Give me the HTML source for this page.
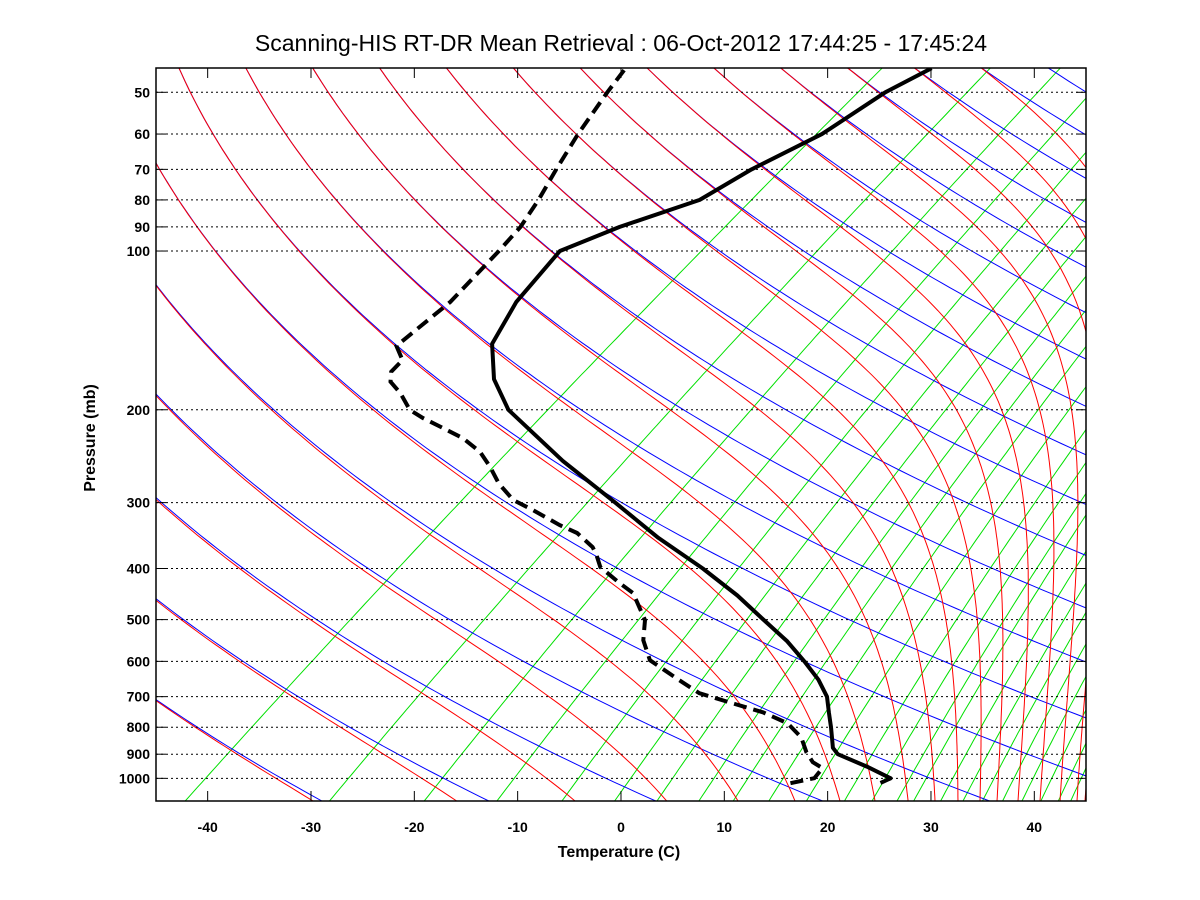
<!DOCTYPE html>
<html><head><meta charset="utf-8"><style>
html,body{margin:0;padding:0;background:#fff;}
svg{display:block;font-family:"Liberation Sans",sans-serif;}
</style></head><body>
<svg id="chart" width="1200" height="900" viewBox="0 0 1200 900" xmlns="http://www.w3.org/2000/svg">
<defs><clipPath id="plotclip"><rect x="156" y="68" width="930" height="733"/></clipPath></defs>
<rect x="0" y="0" width="1200" height="900" fill="#fff"/>
<text x="621" y="51" text-anchor="middle" font-size="23">Scanning-HIS RT-DR Mean Retrieval : 06-Oct-2012 17:44:25 - 17:45:24</text>
<g id="lines" clip-path="url(#plotclip)"></g>
<g id="axes"></g>
<text x="619" y="857" text-anchor="middle" font-size="16" font-weight="bold">Temperature (C)</text>
<text x="0" y="0" transform="translate(95,438) rotate(-90)" text-anchor="middle" font-size="16" font-weight="bold">Pressure (mb)</text>
</svg>
<script>
const pressureTicks=[50,60,70,80,90,100,200,300,400,500,600,700,800,900,1000];
const temperatureTicks=[-40,-30,-20,-10,0,10,20,30,40];
const solidP=[45,50,60,70,80,90,100,125,150,175,200,250,300,350,400,450,500,550,600,650,700,750,800,850,875,900,950,1000,1020];
const solidT=[-63.6,-65.0,-65.8,-68.1,-69.2,-73.5,-76.2,-73.9,-70.9,-66.2,-60.9,-49.1,-38.7,-30.0,-21.8,-15.0,-9.4,-4.3,-0.1,3.6,6.6,8.8,10.9,12.8,13.7,15.0,19.4,23.2,22.8];
const dewP=[45.4,50,60,70,80,90,100,125,151.3,161,169.4,176.9,185.9,200.2,207.4,216.6,226.3,240.2,256.5,276,296.6,309.9,330.9,342.6,364.3,377.3,397.5,426.2,445.3,501,547,597,651.5,689.5,720.5,749.5,786.5,836,892,932,956.5,999.5,1021.5];
const dewT=[-93.1,-91.9,-89.4,-87.0,-84.8,-83.1,-82.1,-80.3,-79.9,-77.5,-77.1,-75.9,-73.5,-70.4,-68.1,-64.9,-61.7,-58.3,-55.4,-52.4,-48.9,-45.7,-41.2,-38.5,-35.2,-33.8,-31.9,-28.0,-25.4,-20.8,-18.4,-15.2,-9.8,-6.2,-1.7,2.4,6.2,9.3,11.7,13.6,15.3,15.8,14.1];
const mixRatios=[0.085,0.34,0.77,1.38,2.26,3.31,4.45,5.91,7.41,9.32,11.8,14.9,17.6,20.4,22.5,26.3,29.9,33.4,37.4,41.7,46.3,51.0,54.6];
const thetaValues=[221.7,237.4,253.1,268.8,284.5,300.2,315.9,331.6,347.3,363.0,378.7,394.4,410.1,425.8,441.5,457.2,472.9,488.6,504.3,520.0,535.7,551.4];
const moistBaseT=[-45.0,-29.8,-15.9,-4.45,4.42,11.32,16.84,21.19,24.58,27.78,30.39,32.61,34.74,36.39,38.42,40.55,42.49,44.13,44.9,46.5];

const NS="http://www.w3.org/2000/svg";
const PTOP=44.9, PBOT=1104;
function yP(p){return 92.3+527.3*Math.log10(p/50);}
function xT(T,p){return 621+10.333*T+1.3206*(801-yP(p));}
function es(Tc){return 6.112*Math.exp(17.67*Tc/(Tc+243.5));}
function mk(tag,parent){const e=document.createElementNS(NS,tag);parent.appendChild(e);return e;}
function pts(arr){return arr.map(a=>a[0].toFixed(1)+","+a[1].toFixed(1)).join(" ");}
const lines=document.getElementById('lines');
const axes=document.getElementById('axes');
const NSTEP=160;
function pAt(i){return PTOP*Math.pow(PBOT/PTOP,i/NSTEP);}
function integrate(T0,fromTop){
  const Rd=287,cp=1004,Lv=2.5e6,eps=0.622,sub=4;
  const out=new Array(NSTEP+1);let T=T0;
  const dl=(fromTop?1:-1)*Math.log(PBOT/PTOP)/NSTEP/sub;
  for(let k=0;k<=NSTEP;k++){
    const i=fromTop?k:NSTEP-k;const p=pAt(i);out[i]=T;let pp=p;
    for(let s=0;s<sub;s++){
      const e=es(T-273.15);const rs=eps*e/Math.max(pp-e,1);
      const dT=(Rd*T+Lv*rs)/(cp+Lv*Lv*rs*eps/(Rd*T*T));
      T+=dT*dl;pp*=Math.exp(dl);
    }
  }
  return out;
}

mixRatios.forEach(w=>{
  const a=[];
  for(let i=0;i<=NSTEP;i++){const p=pAt(i);const e=w*p/(622+w);const l=Math.log(e/6.112);const Td=243.5*l/(17.67-l);a.push([xT(Td,p),yP(p)]);}
  const pl=mk('polyline',lines);
  
  
  pl.setAttribute('points',pts(a));pl.setAttribute('fill','none');pl.setAttribute('stroke','#00e000');pl.setAttribute('stroke-width','1');
});
thetaValues.forEach(th=>{
  const a=[];
  for(let i=0;i<=NSTEP;i++){const p=pAt(i);const T=th*Math.pow(p/1000,0.2857)-273.15;a.push([xT(T,p),yP(p)]);}
  const pl=mk('polyline',lines);
  
  
  pl.setAttribute('points',pts(a));pl.setAttribute('fill','none');pl.setAttribute('stroke','#0000ff');pl.setAttribute('stroke-width','1');
});
moistBaseT.forEach((tb,j)=>{
  const th=thetaValues[j];
  const up=integrate(tb+273.15,false);
  const down=integrate(th*Math.pow(PTOP/1000,0.2857),true);
  const a=[];
  for(let i=0;i<=NSTEP;i++){
    const p=pAt(i);const y=yP(p);const w=Math.pow(Math.max(0,Math.min(1,(y-68)/733)),3);
    const T=w*up[i]+(1-w)*down[i];
    a.push([xT(T-273.15,p),y]);
  }
  const pl=mk('polyline',lines);
  
  
  pl.setAttribute('points',pts(a));pl.setAttribute('fill','none');pl.setAttribute('stroke','#ff0000');pl.setAttribute('stroke-width','1');
});
pressureTicks.forEach(p=>{
  const y=yP(p);
  const g=mk('line',axes);
  
  
  g.setAttribute('x1',156);g.setAttribute('x2',1086);g.setAttribute('y1',y);g.setAttribute('y2',y);
  g.setAttribute('stroke','#000');g.setAttribute('stroke-width','1');g.setAttribute('stroke-dasharray','2,3');
  const t1=mk('line',axes);
  
  
  t1.setAttribute('x1',156);t1.setAttribute('x2',166);t1.setAttribute('y1',y);t1.setAttribute('y2',y);t1.setAttribute('stroke','#000');
  const t2=mk('line',axes);
  
  
  t2.setAttribute('x1',1076);t2.setAttribute('x2',1086);t2.setAttribute('y1',y);t2.setAttribute('y2',y);t2.setAttribute('stroke','#000');
  const lb=mk('text',axes);
  
  
  lb.setAttribute('x',150);lb.setAttribute('y',y+5);lb.setAttribute('text-anchor','end');lb.setAttribute('font-size','14');lb.setAttribute('font-weight','bold');
  lb.textContent=p;
});
temperatureTicks.forEach(T=>{
  const x=156+10.333*(T+45);
  const t1=mk('line',axes);
  
  
  t1.setAttribute('x1',x);t1.setAttribute('x2',x);t1.setAttribute('y1',791);t1.setAttribute('y2',801);t1.setAttribute('stroke','#000');
  const t2=mk('line',axes);
  
  
  t2.setAttribute('x1',x);t2.setAttribute('x2',x);t2.setAttribute('y1',68);t2.setAttribute('y2',78);t2.setAttribute('stroke','#000');
  const lb=mk('text',axes);
  
  
  lb.setAttribute('x',x);lb.setAttribute('y',832);lb.setAttribute('text-anchor','middle');lb.setAttribute('font-size','14');lb.setAttribute('font-weight','bold');
  lb.textContent=T;
});
const frame=mk('rect',axes);


frame.setAttribute('x',156);frame.setAttribute('y',68);frame.setAttribute('width',930);frame.setAttribute('height',733);frame.setAttribute('fill','none');frame.setAttribute('stroke','#000');frame.setAttribute('stroke-width','1.5');
const tl=mk('polyline',lines);


tl.setAttribute('points',pts(solidP.map((p,i)=>[xT(solidT[i],p),yP(p)])));
tl.setAttribute('fill','none');tl.setAttribute('stroke','#000');tl.setAttribute('stroke-width','4');tl.setAttribute('stroke-linejoin','round');
const dl2=mk('polyline',lines);


dl2.setAttribute('points',pts(dewP.map((p,i)=>[xT(dewT[i],p),yP(p)])));
dl2.setAttribute('fill','none');dl2.setAttribute('stroke','#000');dl2.setAttribute('stroke-width','4');dl2.setAttribute('stroke-dasharray','13,7');
</script>
</body></html>
